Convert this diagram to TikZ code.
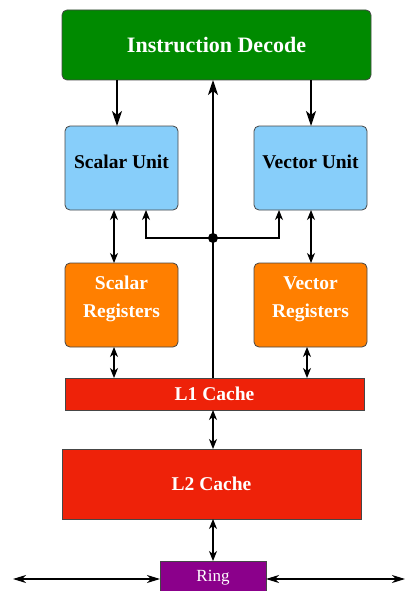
\documentclass[tikz,border=0pt]{standalone}
\usepackage{fontspec}
\setmainfont{Liberation Serif}
\usetikzlibrary{arrows.meta}
\definecolor{decgreen}{RGB}{0,138,0}
\definecolor{unitblue}{RGB}{135,206,250}
\definecolor{regorange}{RGB}{255,127,0}
\definecolor{cachered}{RGB}{238,34,9}
\definecolor{ringpurple}{RGB}{139,0,139}
\definecolor{edgegray}{RGB}{70,70,70}
\tikzset{
  box/.style={draw=edgegray, line width=0.8pt, inner sep=0pt, outer sep=0pt, align=center},
  rbox/.style={box, rounded corners=5pt},
  blockfont/.style={font=\bfseries\fontsize{19.5}{28}\selectfont, align=center, inner sep=0pt},
  bigarrow/.style={line width=1.8pt, -{Stealth[length=15pt,width=10pt,inset=4pt]}},
  twoway/.style={line width=1.1pt, {Stealth[length=10pt,width=8pt,inset=3pt]}-{Stealth[length=10pt,width=8pt,inset=3pt]}},
  oneway/.style={line width=1.1pt, -{Stealth[length=10pt,width=8pt,inset=3pt]}},
  ringway/.style={line width=1.1pt, {Stealth[length=13pt,width=8pt,inset=4pt]}-{Stealth[length=13pt,width=8pt,inset=4pt]}},
}
\begin{document}
\begin{tikzpicture}[x=1pt,y=-1pt]
\useasboundingbox (0,0) rectangle (405,591);

% blocks
\node[rbox, fill=decgreen, minimum width=309pt, minimum height=70pt, text=white,
      font=\bfseries\fontsize{22}{24}\selectfont] (dec) at (216.5,45) {Instruction Decode};
\node[rbox, fill=unitblue, minimum width=113pt, minimum height=84pt] (su) at (121.5,168) {};
\node[rbox, fill=unitblue, minimum width=113pt, minimum height=84pt] (vu) at (310.5,168) {};
\node[rbox, fill=regorange, minimum width=113pt, minimum height=84pt] (sr) at (121.5,305) {};
\node[rbox, fill=regorange, minimum width=113pt, minimum height=84pt] (vr) at (310.5,305) {};
\node[box, fill=cachered, minimum width=299pt, minimum height=32pt, text=white,
      font=\bfseries\fontsize{19.5}{22}\selectfont] (l1) at (214.5,394) {L1 Cache};
\node[box, fill=cachered, minimum width=299pt, minimum height=70pt, text=white,
      font=\bfseries\fontsize{19.5}{22}\selectfont] (l2) at (211.5,484) {L2 Cache};
\node[box, fill=ringpurple, minimum width=106pt, minimum height=34pt, text=white,
      font=\fontsize{17}{20}\selectfont] (ring) at (213,578) {Ring};

% block labels, set a little above the box centres
\node[blockfont] (sut) at ([yshift=6pt]su.center) {Scalar Unit};
\node[blockfont] (vut) at ([yshift=6pt]vu.center) {Vector Unit};
\node[blockfont, text=white] (srt) at ([yshift=6pt]sr.center) {Scalar\\Registers};
\node[blockfont, text=white] (vrt) at ([yshift=6pt]vr.center) {Vector\\Registers};

% reference columns
\coordinate (cl) at (117,0);
\coordinate (cm) at (213,0);
\coordinate (cs) at (114,0);
\coordinate (cv) at (311,0);
\coordinate (cw) at (307,0);
\coordinate (bl) at (146,0);
\coordinate (br) at (279,0);
\coordinate (hub) at (213,238);
\coordinate (farl) at (13,579);
\coordinate (farr) at (405,579);

% decode to units
\draw[bigarrow] (dec.south -| cl) -- (su.north -| cl);
\draw[bigarrow] (dec.south -| cv) -- (vu.north -| cv);
% L1 back to decode
\draw[bigarrow] (l1.north -| cm) -- (dec.south -| cm);
% branch from the return path to both units
\draw[oneway] (hub) -| (su.south -| bl);
\draw[oneway] (hub) -| (vu.south -| br);
\fill (hub) circle (5pt);

% units <-> registers <-> caches
\draw[twoway] (su.south -| cs) -- (sr.north -| cs);
\draw[twoway] (vu.south -| cv) -- (vr.north -| cv);
\draw[twoway] (sr.south -| cs) -- (l1.north -| cs);
\draw[twoway] (vr.south -| cw) -- (l1.north -| cw);
\draw[twoway] (l1.south -| cm) -- (l2.north -| cm);
\draw[twoway] (l2.south -| cm) -- (ring.north -| cm);

% ring links
\draw[ringway] (farl) -- (ring.west |- farl);
\draw[ringway] (ring.east |- farr) -- (farr);
\end{tikzpicture}
\end{document}
